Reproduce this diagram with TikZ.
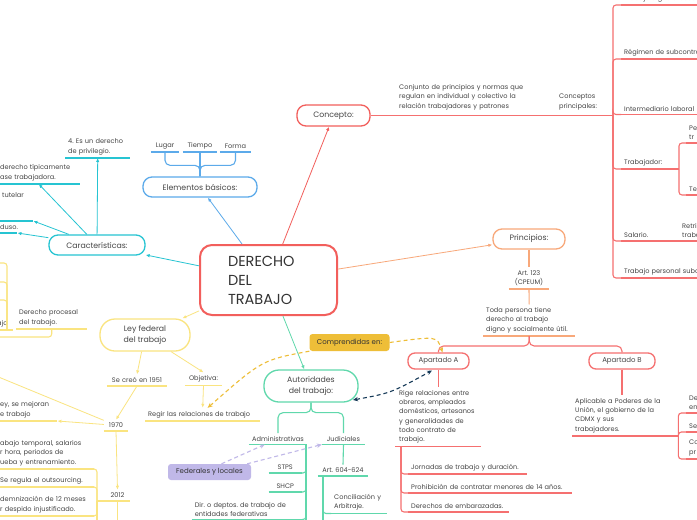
\documentclass[tikz,border=0pt]{standalone}
\usepackage{fontspec}
\setmainfont{Poppins}
\usetikzlibrary{arrows.meta, positioning, calc}
\frenchspacing

\definecolor{txt}{RGB}{70,70,70}
\definecolor{rootred}{RGB}{242,95,92}
\definecolor{redl}{RGB}{245,112,112}
\definecolor{orng}{RGB}{248,168,122}
\definecolor{blu}{RGB}{92,170,234}
\definecolor{cyn}{RGB}{38,196,210}
\definecolor{yel}{RGB}{250,228,128}
\definecolor{grn}{RGB}{96,216,172}
\definecolor{gold}{RGB}{238,190,56}
\definecolor{lav}{RGB}{192,184,232}
\definecolor{navy}{RGB}{22,58,88}

\newcommand{\ftxt}{\fontsize{6.6}{9.2}\selectfont}
\newcommand{\fmid}{\fontsize{7}{9.5}\selectfont}
\newcommand{\fnodo}{\fontsize{7.8}{11.4}\selectfont}
\newcommand{\fraiz}{\fontsize{14.5}{19}\selectfont}

\tikzset{
  pill/.style={draw=#1, line width=1.3pt, rounded corners=9pt, fill=white, text=txt, font=\fnodo, align=center},
  item/.style={text=txt, font=\ftxt, inner xsep=3pt, inner ysep=3pt},
  ul/.style={append after command={(\tikzlastnode.south west) edge[draw=#1, line width=1.1pt] (\tikzlastnode.south east)}},
  lnk/.style={draw=#1, line width=0.8pt, -{Latex[length=4pt,width=3.4pt]}},
  brk/.style={draw=#1, line width=1.1pt, rounded corners=3pt},
  tag/.style={fill=#1, rounded corners=3pt, text=black!80, font=\fmid, inner sep=0pt},
  rel/.style={draw=#1, line width=1.1pt, dash pattern=on 4pt off 3pt},
}

\begin{document}
\begin{tikzpicture}[x=1pt, y=-1pt]

    % Frame of the picture
    \path[fill=white, use as bounding box] (0,0) rectangle (697,520);
    \clip (0,0) rectangle (697,520);

    % Central idea
    \node[draw=rootred, line width=2pt, rounded corners=12pt, minimum width=137pt, minimum height=70pt,
          text width=81pt, align=left, font=\fraiz, text=black!80, inner xsep=0pt] (raiz) at (268.5,280) {DERECHO\\DEL\\TRABAJO};

    % Main branches
    \node[pill=rootred, minimum width=73pt, minimum height=21pt] (concepto) at (333.5,115.5) {Concepto:};
    \node[pill=orng, minimum width=72pt, minimum height=20pt] (principios) at (529,239) {Principios:};
    \node[pill=blu, minimum width=114pt, minimum height=20pt] (elementos) at (200,187) {Elementos básicos:};
    \node[pill=cyn, minimum width=96pt, minimum height=20pt] (carac) at (97,245) {Características:};
    \node[pill=yel, rounded corners=15pt, minimum width=90pt, minimum height=32pt] (ley) at (145,335) {Ley federal\\del trabajo};
    \node[pill=grn, rounded corners=15pt, minimum width=94pt, minimum height=32pt] (aut) at (311,386) {Autoridades\\del trabajo:};

    \draw[lnk=rootred] (raiz) -- (concepto);
    \draw[lnk=orng] (raiz) -- (principios);
    \draw[lnk=blu] (raiz) -- (elementos);
    \draw[lnk=cyn] (raiz) -- (carac);
    \draw[lnk=yel] (raiz) -- (ley);
    \draw[lnk=grn] (raiz) -- (aut);

    % Concepto
    \node[item, inner sep=0pt, anchor=north west, text width=135pt, align=left] (defin) at (399,84.5)
        {Conjunto de principios y normas que\\regulan en individual y colectivo la\\relación trabajadores y patrones};
    \node[item, inner sep=0pt, anchor=north west, text width=45pt, align=left] (cprin) at (559,94) {Conceptos\\principales:};
    \coordinate (cbrk) at (613,114.5);
    \draw[brk=redl] (concepto.east) -- (concepto.east -| cbrk);

    \node[item, ul=redl, anchor=south west, text width=150pt, align=left] (digno) at (621,5) {Trabajo digno o decente};
    \node[item, ul=redl, anchor=south west, text width=150pt, align=left] (subc) at (621,59) {Régimen de subcontratación};
    \node[item, ul=redl, anchor=south west, text width=150pt, align=left] (interm) at (621,114.5) {Intermediario laboral};
    \node[item, ul=redl, anchor=south west, text width=52pt, align=left] (trab) at (621,169) {Trabajador:};
    \node[item, ul=redl, anchor=south west, text width=52pt, align=left] (salario) at (621,241) {Salario.};
    \node[item, ul=redl, anchor=south west, text width=150pt, align=left] (tpers) at (621,278) {Trabajo personal subordinado};
    \foreach \n in {digno, subc, interm, trab, salario, tpers}
        \draw[brk=redl] (cbrk) |- (\n.south west);

    \coordinate (tbrk) at (679,169);
    \node[item, ul=redl, anchor=south west, text width=30pt, align=left] (pe) at (686,143) {Pe\\tr};
    \node[item, ul=redl, anchor=south west, text width=30pt, align=left] (te) at (686,195) {Te};
    \draw[brk=redl] (tbrk) |- (pe.south west);
    \draw[brk=redl] (tbrk) |- (te.south west);
    \node[item, ul=redl, anchor=south west, text width=30pt, align=left] (retrib) at (679,241) {Retrib\\traba};

    % Principios
    \node[item, ul=orng, anchor=south, text width=34pt, align=center] (art) at (529,289) {Art. 123\\(CPEUM)};
    \node[item, ul=orng, anchor=south west, text width=86pt, align=left] (toda) at (483,336)
        {Toda persona tiene\\derecho al trabajo\\digno y socialmente útil.};
    \draw[brk=orng] (principios.south) -- (art.north);
    \draw[brk=orng] (art.south) -- (toda.north);

    \node[pill=redl, rounded corners=7pt, font=\fmid, minimum width=61pt, minimum height=16pt] (apA) at (438.5,361) {Apartado A};
    \node[pill=redl, rounded corners=7pt, font=\fmid, minimum width=66pt, minimum height=16pt] (apB) at (622,361) {Apartado B};
    \draw[brk=redl, rounded corners=5pt] (toda.south) -- ++(0,10) -| (apA.north);
    \draw[brk=redl, rounded corners=5pt] (toda.south) -- ++(0,10) -| (apB.north);

    % Apartado A
    \node[item, ul=redl, anchor=south west, text width=78pt, align=left, inner xsep=4pt] (rige) at (395,446.5)
        {Rige relaciones entre\\obreros, empleados\\domésticos, artesanos\\y generalidades de\\todo contrato de\\trabajo.};
    \draw[brk=redl] (apA.south) -- (apA.south |- rige.north);
    \coordinate (rbrk) at (401,446.5);
    \node[item, ul=redl, anchor=south west, text width=113pt, align=left] (jornadas) at (408,474) {Jornadas de trabajo y duración.};
    \node[item, ul=redl, anchor=south west, text width=158pt, align=left] (prohib) at (408,493) {Prohibición de contratar menores de 14 años.};
    \node[item, ul=redl, anchor=south west, text width=95pt, align=left] (emb) at (408,512) {Derechos de embarazadas.};
    \foreach \n in {jornadas, prohib, emb}
        \draw[brk=redl] (rbrk) |- (\n.south west);

    % Apartado B
    \node[item, ul=redl, anchor=south west, text width=100pt, align=left] (aplic) at (572,436)
        {Aplicable a Poderes de la\\Unión, el gobierno de la\\CDMX y sus\\trabajadores.};
    \draw[brk=redl] (apB.south) -- (apB.south |- aplic.north);
    \node[item, ul=redl, anchor=south west, text width=30pt, align=left] (de) at (686,413) {De\\en};
    \node[item, ul=redl, anchor=south west, text width=30pt, align=left] (se) at (686,432) {Se};
    \node[item, ul=redl, anchor=south west, text width=30pt, align=left] (co) at (686,459) {Co\\pr};
    \foreach \n in {de, se, co}
        \draw[brk=redl] (aplic.south east) |- (\n.south west);

    % Elementos basicos
    \node[item, ul=blu, anchor=south, text width=22pt, align=center] (lugar) at (165,152) {Lugar};
    \node[item, ul=blu, anchor=south, text width=28pt, align=center] (tiempo) at (200,152) {Tiempo};
    \node[item, ul=blu, anchor=south, text width=25pt, align=center] (forma) at (235.5,152) {Forma};
    \draw[brk=blu, rounded corners=5pt] (elementos.north) -- ++(0,-11) -| (lugar.south);
    \draw[brk=blu, rounded corners=5pt] (elementos.north) -- ++(0,-11) -| (forma.south);
    \draw[brk=blu] (elementos.north) -- (tiempo.south);

    % Caracteristicas
    \node[item, ul=cyn, anchor=south west, text width=59pt, align=left] (priv) at (65,158) {4. Es un derecho\\de privilegio.};
    \node[item, ul=cyn, anchor=south west, text width=77pt, align=left] (tip) at (-3,184) {derecho típicamente\\ase trabajadora.};
    \node[item, ul=cyn, anchor=south west, text width=28pt, align=left, text depth=20pt] (tut) at (-1,221) {tutelar};
    \node[item, ul=cyn, anchor=south west, text width=14pt, align=left] (duso) at (-3,233) {duso.};
    \draw[lnk=cyn] (carac) -- (priv.south);
    \draw[lnk=cyn] (carac) -- (tip.south);
    \draw[lnk=cyn] (carac) -- (tut.south east);
    \draw[lnk=cyn] (carac) -- (duso.south east);

    % Ley federal del trabajo
    \node[item, ul=yel, anchor=south, text width=54pt, align=center] (creo) at (137,386) {Se creó en 1951};
    \node[item, ul=yel, anchor=south, text width=31pt, align=center] (obj) at (203.5,385.5) {Objetiva:};
    \node[item, ul=yel, anchor=south west, text width=109pt, align=left] (regir) at (145,421) {Regir las relaciones de trabajo};
    \node[item, ul=yel, anchor=south, text width=18pt, align=center] (y1970) at (116,431) {1970};
    \node[item, ul=yel, anchor=south, text width=19pt, align=center] (y2012) at (117.5,501) {2012};
    \draw[lnk=yel] (ley) -- (creo.north);
    \draw[lnk=yel] (ley) -- (obj.north);
    \draw[lnk=yel] (obj.south) -- (regir.north);
    \draw[lnk=yel] (creo.south) -- (y1970.north);
    \draw[lnk=yel] (y1970.south) -- (y2012.north);

    \node[item, ul=yel, anchor=south west, text width=54pt, align=left] (mejor) at (-3,421) {ey, se mejoran\\e trabajo};
    \draw[lnk=yel] (y1970) -- (mejor.south east);
    \coordinate (offA) at (-10,373.5);
    \draw[brk=yel, line width=0.8pt] (y1970) -- (offA);

    \node[item, ul=yel, anchor=south west, text width=91pt, align=left] (temp) at (-3,469)
        {abajo temporal, salarios\\r hora, periodos de\\ueba y entrenamiento.};
    \node[item, ul=yel, anchor=south west, text width=91pt, align=left] (outs) at (-3,487) {Se regula el outsourcing.};
    \node[item, ul=yel, anchor=south west, text width=91pt, align=left] (indem) at (-3,516)
        {demnización de 12 meses\\r despido injustificado.};
    \coordinate (ybrk) at (97,501);
    \draw[brk=yel] (y2012.south west) -- (ybrk);
    \foreach \n in {temp, outs, indem}
        \draw[brk=yel] (ybrk) |- (\n.south east);
    \draw[brk=yel] (ybrk) -- ++(0,30);
    \draw[brk=yel] (y2012.south) -- ++(0,30);

    % Left edge, yellow
    \node[item, ul=yel, anchor=south west, text width=65pt, align=left] (procesal) at (16,329) {Derecho procesal\\del trabajo.};
    \node[item, ul=yel, anchor=south west, text width=13pt, align=left] (ajo) at (-6,330) {ajo};
    \coordinate (lbrk) at (7,330);
    \foreach \y in {263, 282, 300}
        \draw[brk=yel] (lbrk) |- (-5,\y);
    \draw[brk=yel] (procesal.south) |- (-5,337);

    % Autoridades del trabajo
    \node[item, ul=grn, anchor=south, text width=52pt, align=center] (adm) at (278,444.5) {Administrativas};
    \node[item, ul=grn, anchor=south, text width=37pt, align=center] (jud) at (343.5,444.5) {Judiciales};
    \draw[brk=grn, rounded corners=5pt] (aut.south) -- ++(0,10) -| (adm.north);
    \draw[brk=grn, rounded corners=5pt] (aut.south) -- ++(0,10) -| (jud.north);

    \node[item, ul=grn, anchor=south east, text width=27pt, align=center] (stps) at (302,473) {STPS};
    \node[item, ul=grn, anchor=south east, text width=27pt, align=center] (shcp) at (302,492) {SHCP};
    \node[item, ul=grn, anchor=south east, text width=104pt, align=left] (dir) at (302,519.5)
        {Dir. o deptos. de trabajo de\\entidades federativas};
    \coordinate (abrk) at (306,444.5);
    \foreach \n in {stps, shcp, dir}
        \draw[brk=grn] (abrk) |- (\n.south east);
    \draw[brk=grn] (abrk) -- ++(0,85);

    \node[item, ul=grn, anchor=south, text width=44pt, align=center] (art604) at (343,476) {Art. 604-624};
    \draw[brk=grn] (jud.south) -- (art604.north);
    \coordinate (jbrk) at (323,476);
    \node[item, ul=grn, anchor=south west, text width=50pt, align=left] (conc) at (331,513.5) {Conciliación y\\Arbitraje.};
    \draw[brk=grn] (jbrk) |- (conc.south west);
    \draw[brk=grn] (jbrk) -- ++(0,55);

    % Relations
    \node[tag=gold, minimum width=80pt, minimum height=17pt] (comp) at (349.5,342.5) {Comprendidas en:};
    \node[tag=lav, minimum width=83pt, minimum height=16pt] (fed) at (209.5,472) {Federales y locales};

    \draw[rel=gold, -{Stealth[length=5pt,width=4.4pt]}] (comp.east) .. controls (437,336) .. ([xshift=4pt]apA.north);
    \draw[rel=gold, -{Stealth[length=5pt,width=4.4pt]}] (comp.south west) .. controls (262,360) .. ([xshift=5pt]regir.north);

    \coordinate (autR) at (353,400);
    \coordinate (apAL) at (432,370.5);
    \draw[rel=navy, {Stealth[length=5pt,width=4.4pt]}-{Stealth[length=5pt,width=4.4pt]}] (autR) .. controls (391,393) .. (apAL);

    \draw[rel=lav, -{Stealth[length=5pt,width=4.4pt]}] ([xshift=12pt]fed.north) -- ([xshift=16pt]adm.south west);
    \draw[rel=lav, -{Stealth[length=5pt,width=4.4pt]}] ([xshift=-4pt]fed.north east) -- (jud.south west);

\end{tikzpicture}
\end{document}
